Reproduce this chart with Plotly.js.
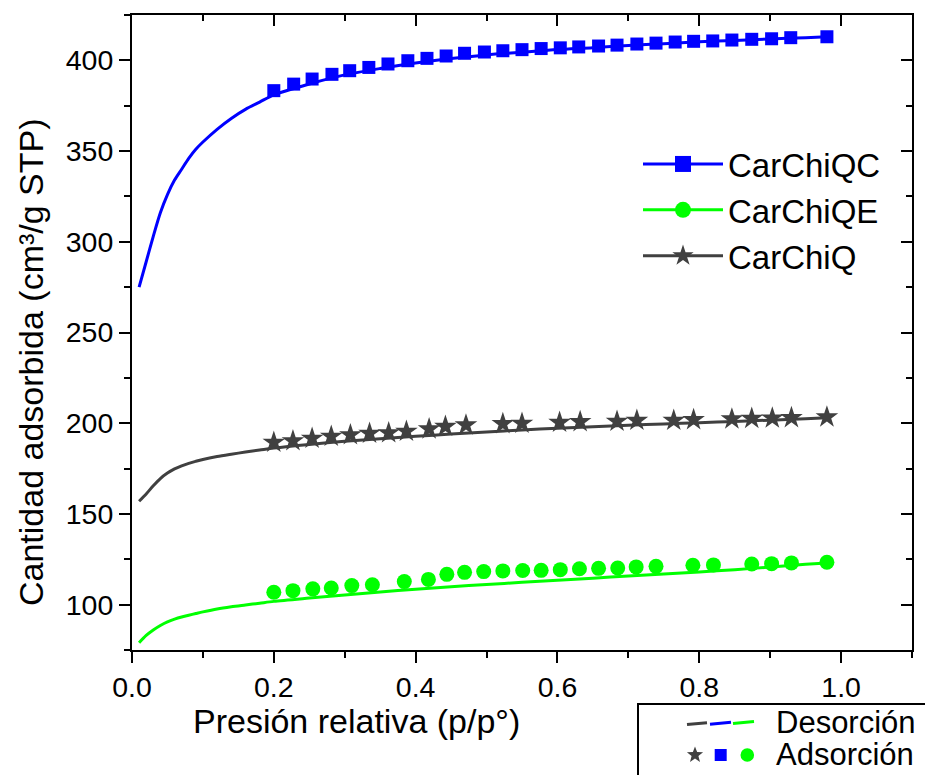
<!DOCTYPE html>
<html><head><meta charset="utf-8">
<script src="https://cdn.plot.ly/plotly-3.0.1.min.js"></script>
<style>html,body{margin:0;padding:0;background:#fff}</style>
</head><body><div id="chart" style="width:925px;height:775px"></div>
<script>
// Desorption curves (lines)
const desX  = [0.01,0.02,0.03,0.04,0.05,0.06,0.07,0.08,0.09,0.10,0.12,0.14,0.16,0.18,0.20,0.25,0.30,0.35,0.40,0.45,0.50,0.55,0.60,0.65,0.70,0.75,0.80,0.85,0.90,0.95,0.98];
const desQC = [275,289,303,316,326,334,340,346,351,355,362,368,373,377,381,387,392,395.5,398.5,401,403,404.5,406,407,408.2,409.2,410.2,411,411.8,412.5,413];
const desQE = [79,83,86,88.5,90.5,92,93.2,94.2,95.1,96,97.6,98.8,99.8,100.8,101.8,103.6,105.3,107,108.5,109.9,111.1,112.3,113.4,114.6,115.8,116.9,118,119.3,120.7,122.2,123];
const desQ  = [157,161,165.5,169.5,172.5,174.8,176.5,177.9,179,180,181.6,182.9,184.1,185.2,186.3,188.3,190,191.5,192.8,194,195.2,196.3,197.2,198.1,198.9,199.6,200.3,201,201.7,202.4,203];

// Adsorption points (markers)
const adsQCx = [0.200,0.228,0.254,0.282,0.307,0.334,0.361,0.389,0.416,0.443,0.469,0.497,0.523,0.550,0.577,0.604,0.630,0.658,0.684,0.712,0.739,0.766,0.792,0.819,0.846,0.874,0.902,0.929,0.980];
const adsQCy = [383.3,386.9,389.7,392.3,394.3,396.1,398.0,399.8,401.1,402.4,403.9,404.6,405.3,405.9,406.5,406.9,407.4,407.9,408.4,409.0,409.5,410.1,410.5,410.7,411.2,411.6,411.9,412.5,413.0];
const adsQx  = [0.200,0.227,0.254,0.281,0.308,0.335,0.362,0.387,0.419,0.442,0.471,0.523,0.550,0.603,0.632,0.684,0.712,0.764,0.792,0.846,0.874,0.903,0.930,0.980];
const adsQy  = [189.4,190.3,191.6,192.7,193.6,194.4,194.7,195.5,196.8,198.2,199.0,199.7,199.9,200.4,200.8,201.0,201.5,201.5,201.9,202.3,202.6,202.8,203.0,203.4];
const adsQEx = [0.200,0.227,0.255,0.281,0.310,0.339,0.384,0.418,0.444,0.469,0.496,0.523,0.551,0.577,0.604,0.631,0.658,0.685,0.711,0.739,0.791,0.820,0.874,0.902,0.930,0.980];
const adsQEy = [106.8,107.7,108.7,109.2,110.5,111.0,112.7,113.9,116.7,117.8,118.2,118.6,118.8,118.9,119.3,119.8,120.0,120.2,120.8,121.1,121.7,121.9,122.4,122.6,123.0,123.4];

const seriesNames = ['CarChiQC','CarChiQE','CarChiQ'];
const xTitle = 'Presión relativa (p/p°)';
const yTitle = 'Cantidad adsorbida (cm³/g STP)';
const legendLabels = ['Desorción','Adsorción'];

const BLUE='#0000ff', GREEN='#00ff00', GRAY='#404040';
const FONT='Liberation Sans, Arial, sans-serif';

// layout geometry helpers (pixels -> paper)
const L=132, R=13, T=15, B=125, W=925, H=775;
const PW=W-L-R, PH=H-T-B;
const px = v => (v-L)/PW;
const py = v => 1-(v-T)/PH;

const traces = [
  {x:desX, y:desQC, mode:'lines', line:{color:BLUE,width:3,shape:'spline',smoothing:0.8}, showlegend:false, hoverinfo:'skip'},
  {x:desX, y:desQE, mode:'lines', line:{color:GREEN,width:3,shape:'spline',smoothing:0.8}, showlegend:false, hoverinfo:'skip'},
  {x:desX, y:desQ,  mode:'lines', line:{color:GRAY,width:3,shape:'spline',smoothing:0.8}, showlegend:false, hoverinfo:'skip'},
  {x:adsQCx, y:adsQCy, mode:'markers', marker:{symbol:'square',size:13,color:BLUE}, showlegend:false},
  {x:adsQEx, y:adsQEy, mode:'markers', marker:{symbol:'circle',size:15,color:GREEN}, showlegend:false},
  {x:adsQx,  y:adsQy,  mode:'markers', marker:{symbol:'star',size:17,color:GRAY}, showlegend:false},
  // legend-only entries
  {x:[null], y:[null], mode:'lines+markers', name:seriesNames[0], line:{color:BLUE,width:3}, marker:{symbol:'square',size:16,color:BLUE}},
  {x:[null], y:[null], mode:'lines+markers', name:seriesNames[1], line:{color:GREEN,width:3}, marker:{symbol:'circle',size:16,color:GREEN}},
  {x:[null], y:[null], mode:'lines+markers', name:seriesNames[2], line:{color:GRAY,width:3}, marker:{symbol:'star',size:18,color:GRAY}},
  // empty trace to activate mirrored axes
  {x:[], y:[], xaxis:'x2', yaxis:'y2', showlegend:false, hoverinfo:'skip'}
];

const axBase = {showline:true, linecolor:'#000', linewidth:2, showgrid:false, zeroline:false,
  tickcolor:'#000', tickwidth:2, ticklen:11, tickfont:{size:28.5,family:FONT,color:'#000'}};

// star path in pixel units
function starPath(R1, r1){
  let p='';
  for(let i=0;i<10;i++){
    const ang = Math.PI/2 + i*Math.PI/5;
    const rr = i%2===0?R1:r1;
    p += (i===0?'M':'L') + (rr*Math.cos(ang)).toFixed(2)+','+(rr*Math.sin(ang)).toFixed(2);
  }
  return p+'Z';
}

const shapes = [
  {type:'rect', xref:'paper', yref:'paper', x0:px(638), x1:px(940), y0:py(704), y1:py(800), line:{color:'#000',width:2}, fillcolor:'rgba(0,0,0,0)'},
  {type:'line', xref:'paper', yref:'paper', x0:px(687), y0:py(724.5), x1:px(707), y1:py(722.8), line:{color:GRAY,width:3}},
  {type:'line', xref:'paper', yref:'paper', x0:px(710), y0:py(724.3), x1:px(731), y1:py(722.3), line:{color:BLUE,width:3}},
  {type:'line', xref:'paper', yref:'paper', x0:px(733), y0:py(723.5), x1:px(754), y1:py(721.5), line:{color:GREEN,width:3}},
  {type:'path', xref:'paper', yref:'paper', xsizemode:'pixel', ysizemode:'pixel', xanchor:px(695), yanchor:py(755), path:starPath(8.5,3.6), fillcolor:GRAY, line:{width:0}},
  {type:'rect', xref:'paper', yref:'paper', xsizemode:'pixel', ysizemode:'pixel', xanchor:px(720.7), yanchor:py(755), x0:-6, x1:6, y0:-6, y1:6, fillcolor:BLUE, line:{width:0}},
  {type:'circle', xref:'paper', yref:'paper', xsizemode:'pixel', ysizemode:'pixel', xanchor:px(747.3), yanchor:py(755), x0:-6.8, x1:6.8, y0:-6.8, y1:6.8, fillcolor:GREEN, line:{width:0}}
];

const annotations = [
  {text:xTitle, xref:'paper', yref:'paper', x:px(356), y:py(721), xanchor:'center', yanchor:'middle', showarrow:false, font:{size:34,family:FONT,color:'#000'}},
  {text:yTitle, xref:'paper', yref:'paper', x:px(31), y:py(362), xanchor:'center', yanchor:'middle', textangle:-90, showarrow:false, font:{size:34,family:FONT,color:'#000'}},
  {text:legendLabels[0], xref:'paper', yref:'paper', x:px(774), y:py(722), xanchor:'left', yanchor:'middle', showarrow:false, font:{size:31,family:FONT,color:'#000'}},
  {text:legendLabels[1], xref:'paper', yref:'paper', x:px(774), y:py(754), xanchor:'left', yanchor:'middle', showarrow:false, font:{size:31,family:FONT,color:'#000'}}
];

const layout = {
  width:W, height:H, margin:{l:L,r:R,t:T,b:B,pad:0},
  paper_bgcolor:'#fff', plot_bgcolor:'#fff',
  font:{family:FONT,color:'#000'},
  xaxis:Object.assign({}, axBase, {range:[0,1.1], tick0:0, dtick:0.2, tickformat:'.1f', ticks:'outside',
    minor:{dtick:0.1, ticklen:6, tickwidth:2, tickcolor:'#000', ticks:'outside'}}),
  yaxis:Object.assign({}, axBase, {range:[75,425], tick0:0, dtick:50, ticks:'outside',
    minor:{dtick:25, ticklen:6, tickwidth:2, tickcolor:'#000', ticks:'outside'}}),
  xaxis2:Object.assign({}, axBase, {overlaying:'x', side:'top', anchor:'y2', range:[0,1.1], tick0:0, dtick:0.2, ticks:'inside', showticklabels:false,
    minor:{dtick:0.1, ticklen:6, tickwidth:2, tickcolor:'#000', ticks:'inside'}}),
  yaxis2:Object.assign({}, axBase, {overlaying:'y', side:'right', anchor:'x2', range:[75,425], tick0:0, dtick:50, ticks:'inside', showticklabels:false,
    minor:{dtick:25, ticklen:6, tickwidth:2, tickcolor:'#000', ticks:'inside'}}),
  legend:{x:px(638), y:py(136), xanchor:'left', yanchor:'top', bgcolor:'rgba(0,0,0,0)', borderwidth:0,
    font:{size:33,family:FONT,color:'#000'}, itemwidth:80, tracegroupgap:0},
  shapes:shapes, annotations:annotations, showlegend:true
};

Plotly.newPlot('chart', traces, layout, {displayModeBar:false, staticPlot:true});
</script></body></html>
